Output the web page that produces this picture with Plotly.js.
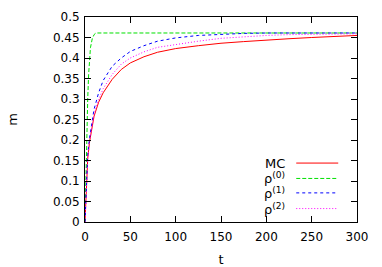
<!DOCTYPE html>
<html>
<head>
<meta charset="utf-8">
<script src="https://cdn.plot.ly/plotly-3.0.1.min.js"></script>
<style>
html,body{margin:0;padding:0;background:#fff;}
#chart{width:382px;height:267px;}
</style>
</head>
<body>
<div id="chart"></div>
<script>
// time axis samples
const tMC = [0, 1, 2, 3, 5, 7.5, 10, 15, 20, 30, 40, 50, 65, 80, 100, 125, 150, 175, 200, 225, 250, 275, 300];
const mMC = [0, 0.05, 0.11, 0.155, 0.195, 0.232, 0.258, 0.292, 0.315, 0.348, 0.372, 0.388, 0.403, 0.414, 0.423, 0.430, 0.436, 0.440, 0.444, 0.447, 0.450, 0.452, 0.455];

const tRho0 = [0, 1, 2, 3, 4, 5, 6, 8, 10, 12, 20, 50, 100, 150, 200, 250, 300];
const mRho0 = [0, 0.12, 0.22, 0.30, 0.36, 0.40, 0.425, 0.447, 0.457, 0.461, 0.461, 0.461, 0.461, 0.461, 0.461, 0.461, 0.461];

const tRho1 = [0, 1, 2, 3, 5, 7.5, 10, 15, 20, 30, 40, 50, 65, 80, 100, 125, 150, 175, 200, 250, 300];
const mRho1 = [0, 0.05, 0.12, 0.165, 0.205, 0.245, 0.275, 0.315, 0.345, 0.38, 0.40, 0.416, 0.43, 0.441, 0.449, 0.455, 0.458, 0.460, 0.461, 0.461, 0.461];

const tRho2 = [0, 1, 2, 3, 5, 7.5, 10, 15, 20, 30, 40, 50, 65, 80, 100, 125, 150, 175, 200, 225, 250, 275, 300];
const mRho2 = [0, 0.05, 0.11, 0.155, 0.198, 0.236, 0.263, 0.298, 0.325, 0.36, 0.385, 0.400, 0.415, 0.426, 0.433, 0.441, 0.448, 0.452, 0.455, 0.457, 0.458, 0.459, 0.459];

const seriesNames = ["MC", "ρ<sup>(0)</sup>", "ρ<sup>(1)</sup>", "ρ<sup>(2)</sup>"];
const seriesColors = ["#ff0000", "#00e000", "#0000ff", "#ff00ff"];
const seriesDash = ["solid", "4px,2px", "3px,3px", "1px,2px"];

const xs = [tMC, tRho0, tRho1, tRho2];
const ys = [mMC, mRho0, mRho1, mRho2];

const traces = xs.map((x, i) => ({
  x: x, y: ys[i], type: "scatter", mode: "lines", name: seriesNames[i],
  line: {color: seriesColors[i], width: 1, dash: seriesDash[i]},
  showlegend: false, hoverinfo: "skip"
}));

// legend drawn as text on the left of line samples (gnuplot style)
const legRowsY = [0.2875, 0.2125, 0.142, 0.0656];
const annotations = seriesNames.map((n, i) => ({
  xref: "paper", yref: "paper", x: 0.744, y: legRowsY[i],
  xanchor: "right", yanchor: "middle", text: n, showarrow: false,
  font: {family: "DejaVu Sans, sans-serif", size: 13, color: "#000"}
}));
const shapes = seriesNames.map((n, i) => ({
  type: "line", xref: "paper", yref: "paper",
  x0: 0.7766, x1: 0.931, y0: legRowsY[i], y1: legRowsY[i],
  line: {color: seriesColors[i], width: 1, dash: seriesDash[i]}
}));

const axisCommon = {
  showline: true, linecolor: "#000", linewidth: 1, mirror: "ticks",
  ticks: "inside", ticklen: 6, tickcolor: "#000", tickwidth: 1,
  showgrid: false, zeroline: false,
  tickfont: {family: "DejaVu Sans, sans-serif", size: 12, color: "#000"}
};

const layout = {
  width: 382, height: 267,
  margin: {l: 85, r: 25, t: 17, b: 45},
  paper_bgcolor: "#fff", plot_bgcolor: "#fff",
  showlegend: false,
  xaxis: Object.assign({}, axisCommon, {
    range: [0, 300], dtick: 50, tick0: 0, ticklabelstandoff: 4,
    title: {text: "t", font: {family: "DejaVu Sans, sans-serif", size: 13, color: "#000"}, standoff: 14}
  }),
  yaxis: Object.assign({}, axisCommon, {
    range: [0, 0.5], dtick: 0.05, tick0: 0, ticklabelstandoff: 2,
    title: {text: "m", font: {family: "DejaVu Sans, sans-serif", size: 13, color: "#000"}, standoff: 32}
  }),
  annotations: annotations,
  shapes: shapes
};

Plotly.newPlot("chart", traces, layout, {staticPlot: true, displayModeBar: false});
</script>
</body>
</html>
